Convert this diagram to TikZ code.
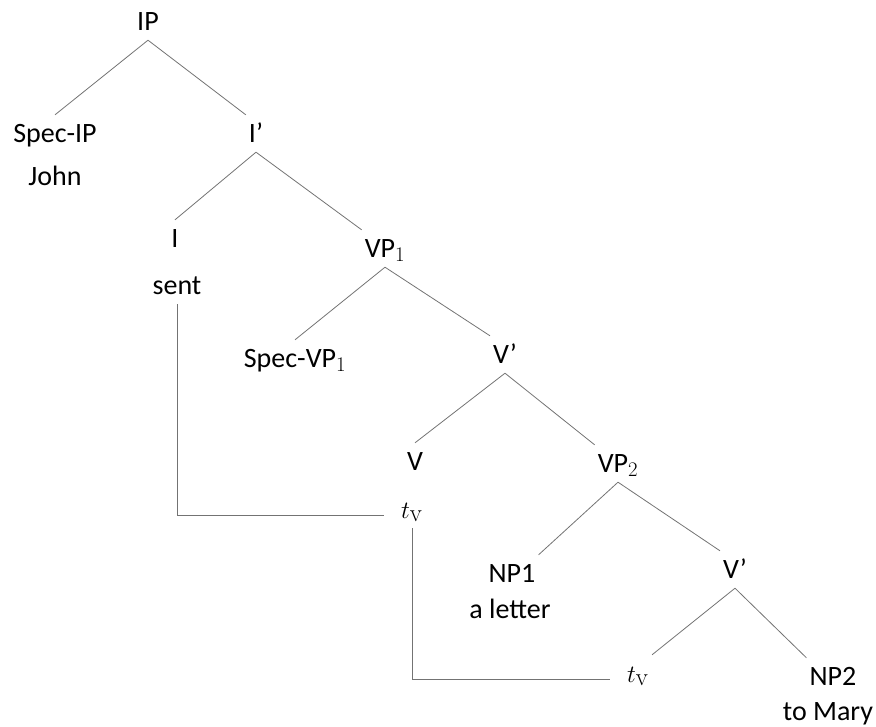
\documentclass[tikz,border=0pt]{standalone}
\usepackage[no-math]{fontspec}
\setmainfont{Carlito}
\usepackage{amsmath,amssymb}

\tikzset{
  cat/.style={anchor=base, inner sep=3pt, text height=24pt, text depth=7pt,
    font=\fontsize{28}{34}\selectfont},
  tracecat/.style={cat, font=\fontsize{33}{40}\selectfont},
  branch/.style={draw=black!55, line width=0.8pt},
  trace/.style={draw=black!55, line width=0.8pt, shorten >=14pt}
}

\begin{document}
\begin{tikzpicture}[x=1pt,y=-1pt,every node/.style={cat}]
          \useasboundingbox (0,0) rectangle (876,726);
          \node (IP) at (148, 30) {IP};
          \node (SpecIP) at (55, 142) {Spec-IP};
          \node (John) at (55, 185) {John};
          \node (Ibar) at (256, 142) {I’};
          \node (I) at (175, 247) {I};
          \node (sent) at (177, 294) {sent};
          \node (VPa) at (385, 257) {VP$_1$};
          \node (SpecVPa) at (295, 367) {Spec-VP$_1$};
          \node (Vbar) at (505, 363) {V’};
          \node (V) at (415, 470) {V};
          \node[tracecat] (tva) at (412, 518) {$t_{\mathrm{v}}$};
          \node (VPb) at (618, 472) {VP$_2$};
          \node (NPa) at (512, 582) {NP1};
          \node (letter) at (510, 618) {a letter};
          \node (Vbarb) at (735, 578) {V’};
          \node[tracecat] (tvb) at (638, 682) {$t_{\mathrm{v}}$};
          \node (NPb) at (833, 685) {NP2};
          \node (Mary) at (828, 720) {to Mary};
          % branches
          \draw[branch] (IP.south) to (SpecIP.north);
          \draw[branch] (IP.south) to (Ibar.north west);
          \draw[branch] (Ibar.south) to (I.north);
          \draw[branch] (Ibar.south) to (VPa.north west);
          \draw[branch] (VPa.south) to (SpecVPa.north);
          \draw[branch] (VPa.south) to (Vbar.north west);
          \draw[branch] (Vbar.south) to (V.north);
          \draw[branch] (Vbar.south) to (VPb.north west);
          \draw[branch] (VPb.south) to (NPa.north east);
          \draw[branch] (VPb.south) to (Vbarb.north west);
          \draw[branch] (Vbarb.south) to (tvb.north east);
          \draw[branch] (Vbarb.south) to (NPb.north west);
          % movement
          \draw[trace] (sent.south) |- (tva.mid west);
          \draw[trace] (tva.south) |- (tvb.mid west);
        \end{tikzpicture}
\end{document}
